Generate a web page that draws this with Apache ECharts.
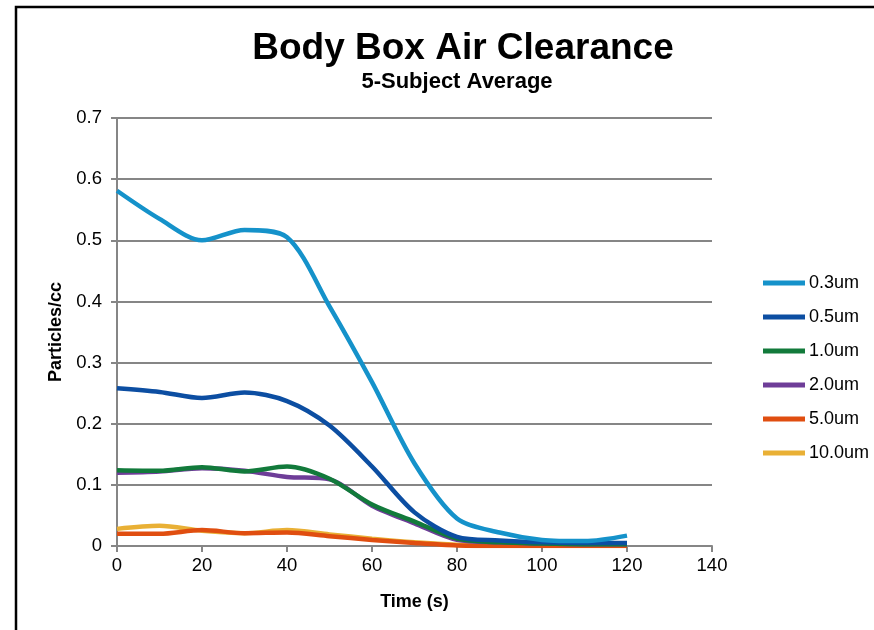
<!DOCTYPE html>
<html>
<head>
<meta charset="utf-8">
<script src="https://cdn.jsdelivr.net/npm/echarts@6/dist/echarts.min.js"></script>
<style>html,body{margin:0;padding:0;background:#fff}#c{width:874px;height:630px}</style>
</head>
<body>
<div id="c"></div>
<script>
const times = [0, 10, 20, 30, 40, 50, 60, 70, 80, 90, 100, 110, 120];
const s03 = [0.581, 0.535, 0.500, 0.517, 0.505, 0.392, 0.268, 0.135, 0.045, 0.022, 0.010, 0.008, 0.017];
const s05 = [0.258, 0.252, 0.242, 0.251, 0.237, 0.197, 0.130, 0.055, 0.015, 0.009, 0.006, 0.005, 0.005];
const s10 = [0.124, 0.123, 0.129, 0.122, 0.130, 0.110, 0.068, 0.040, 0.012, 0.006, 0.004, 0.003, 0.003];
const s20 = [0.120, 0.122, 0.127, 0.123, 0.113, 0.109, 0.066, 0.037, 0.010, 0.006, 0.004, 0.003, 0.003];
const s50 = [0.020, 0.020, 0.026, 0.021, 0.022, 0.016, 0.010, 0.005, 0.001, 0.000, 0.000, 0.000, 0.000];
const s100 = [0.028, 0.033, 0.025, 0.021, 0.026, 0.019, 0.012, 0.006, 0.002, 0.001, 0.001, 0.001, 0.001];
const names = ['0.3um', '0.5um', '1.0um', '2.0um', '5.0um', '10.0um'];
const colors = ['#1592CA', '#0C4EA2', '#127A3B', '#6E3D98', '#E04E10', '#E9B035'];
const seriesData = [s03, s05, s10, s20, s50, s100];

const font = 'Liberation Sans, Arial, sans-serif';
const chart = echarts.init(document.getElementById('c'));
chart.setOption({
  animation: false,
  backgroundColor: '#fff',
  graphic: [{
    type: 'rect', shape: {x: 16, y: 7, width: 900, height: 700},
    style: {fill: 'none', stroke: '#000', lineWidth: 2.5}, silent: true
  }],
  title: [{
    text: 'Body Box Air Clearance', left: 458, top: 25, textAlign: 'center',
    textStyle: {fontFamily: font, fontSize: 37, fontWeight: 'bold', color: '#000'}
  }, {
    text: '5-Subject Average', left: 452, top: 66, textAlign: 'center',
    textStyle: {fontFamily: font, fontSize: 22, fontWeight: 'bold', color: '#000'}
  }],
  legend: {
    orient: 'vertical', left: 758, top: 268, itemGap: 14,
    itemWidth: 42, itemHeight: 20,
    icon: 'path://M0,7.5 L42,7.5 L42,12.5 L0,12.5 Z',
    textStyle: {fontFamily: font, fontSize: 18, color: '#000', padding: [0, 0, 0, -1], lineHeight: 20, height: 20},
    data: names
  },
  grid: {left: 117, right: 162, top: 118, bottom: 84},
  xAxis: {
    type: 'value', min: 0, max: 140, interval: 20,
    name: 'Time (s)', nameLocation: 'middle', nameGap: 47,
    nameTextStyle: {fontFamily: font, fontSize: 18, fontWeight: 'bold', color: '#000'},
    axisLine: {show: true, lineStyle: {color: '#868686', width: 2}},
    axisTick: {show: true, length: 6, lineStyle: {color: '#868686', width: 2}},
    axisLabel: {fontFamily: font, fontSize: 18.5, color: '#000', margin: 10},
    splitLine: {show: false}
  },
  yAxis: {
    type: 'value', min: 0, max: 0.7, interval: 0.1,
    name: 'Particles/cc', nameLocation: 'middle', nameGap: 52,
    nameTextStyle: {fontFamily: font, fontSize: 18, fontWeight: 'bold', color: '#000'},
    axisLine: {show: true, lineStyle: {color: '#868686', width: 2}},
    axisTick: {show: true, length: 6, lineStyle: {color: '#868686', width: 2}},
    axisLabel: {fontFamily: font, fontSize: 18.5, color: '#000', margin: 15,
      formatter: v => (v === 0 ? '0' : v.toFixed(1))},
    splitLine: {show: true, lineStyle: {color: '#868686', width: 2}}
  },
  series: seriesData.map((d, i) => ({
    name: names[i], type: 'line', smooth: 0.3, symbol: 'none',
    data: times.map((t, j) => [t, d[j]]),
    lineStyle: {color: colors[i], width: 4.5},
    itemStyle: {color: colors[i]},
    z: 10 - i
  }))
});
</script>
</body>
</html>
